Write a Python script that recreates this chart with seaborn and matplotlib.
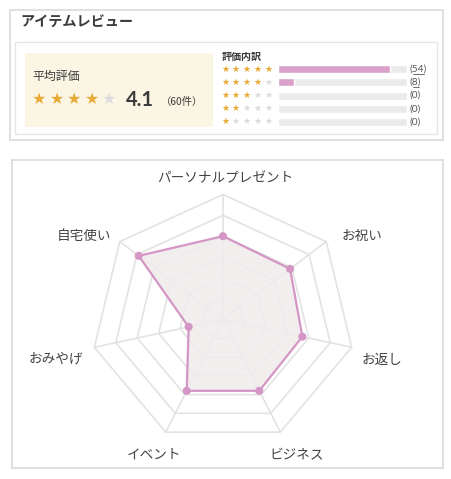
import numpy as np
import pandas as pd
import matplotlib
matplotlib.use("Agg")
import matplotlib.pyplot as plt
from matplotlib.patches import Rectangle
import seaborn as sns

sns.set_theme(style="white")
JP = ['Noto Sans CJK JP', 'DejaVu Sans']
plt.rcParams['font.family'] = JP

# ---------------- data ----------------
title = "アイテムレビュー"
avg_label = "平均評価"
avg_score = 4.1
review_count = 60
breakdown_title = "評価内訳"
star_levels = [5, 4, 3, 2, 1]
star_counts = [54, 8, 0, 0, 0]

radar_labels = ["パーソナルプレゼント", "お祝い", "お返し", "ビジネス", "イベント", "おみやげ", "自宅使い"]
radar_values = [4.0, 3.9, 3.7, 3.8, 3.8, 1.6, 4.9]
radar_max = 6

# ---------------- style ----------------
W, H = 452, 479
GOLD = "#e6aa35"
STAR_GRAY = "#dcdcdc"
PINK = "#d9a1ca"
LINE = "#d496c4"
FILL = "#f1ebec"
GRID = "#e3e3e3"
BORDER = "#dadada"
TXT = "#3a3a3a"

fig = plt.figure(figsize=(W / 100, H / 100), dpi=100)
fig.patch.set_facecolor("white")

# overlay axes in pixel coordinates for the review panel
ov = fig.add_axes([0, 0, 1, 1])
ov.set_xlim(0, W)
ov.set_ylim(H, 0)
ov.axis("off")

ov.add_patch(Rectangle((10, 10), 433, 130, fill=False, ec=BORDER, lw=1.2))
ov.add_patch(Rectangle((15, 42), 422, 92, fill=False, ec="#e6e6e6", lw=1.0))
ov.add_patch(Rectangle((25, 53), 188, 74, fc="#fbf6e4", ec="none"))

ov.text(20, 23, title, fontsize=10.2, fontweight="bold", color=TXT, va="center", ha="left")
ov.text(32, 76, avg_label, fontsize=8.6, color=TXT, va="center", ha="left")

for i in range(5):
    ov.text(39.5 + i * 17.5, 99, "★", family="DejaVu Sans", fontsize=11.5,
            color=GOLD if i < int(avg_score) else STAR_GRAY, ha="center", va="center")
ov.text(126, 100, f"{avg_score:.1f}", fontsize=14.5, fontweight="bold", color=TXT,
        ha="left", va="center", family=["Lato", "DejaVu Sans"])
ov.text(161, 101.5, f"（{review_count}件）", fontsize=7.4, color=TXT, ha="left", va="center")

ov.text(222, 56.5, breakdown_title, fontsize=7.2, fontweight="bold", color=TXT, ha="left", va="center")

row_y0, row_dy = 69.3, 13.1
for r, lvl in enumerate(star_levels):
    y = row_y0 + r * row_dy
    for i in range(5):
        ov.text(225 + i * 10.8, y, "★", family="DejaVu Sans", fontsize=6.5,
                color=GOLD if i < lvl else STAR_GRAY, ha="center", va="center")
    ov.text(410, y, f"({star_counts[r]})", fontsize=7.3, color="#555555", ha="left", va="center",
            family=["Lato", "DejaVu Sans"])
    if star_counts[r] > 0:
        nd = len(str(star_counts[r]))
        ov.plot([413.5, 413.5 + nd * 5.4], [y + 5, y + 5], color="#555555", lw=0.6)

# breakdown bars (seaborn)
total = sum(star_counts)
bx0, bx1 = 277.7, 406.7
by0 = row_y0 - row_dy / 2
axb = fig.add_axes([bx0 / W, 1 - (by0 + row_dy * 5) / H, (bx1 - bx0) / W, row_dy * 5 / H])
dfb = pd.DataFrame({"level": [str(s) for s in star_levels], "count": star_counts,
                    "total": [total] * len(star_levels)})
order = [str(s) for s in star_levels]
sns.barplot(data=dfb, x="total", y="level", order=order, orient="h", color="#ebebeb",
            saturation=1, width=8 / row_dy, ax=axb)
sns.barplot(data=dfb, x="count", y="level", order=order, orient="h", color=PINK,
            saturation=1, width=8 / row_dy, ax=axb)
axb.set_xlim(0, total)
axb.set_ylim(len(star_levels) - 0.5, -0.5)
axb.axis("off")

# ---------------- radar ----------------
cx, cy = 223, 319.5
sx, sy = 22.0, 20.83
bl, bt, br, bb = 11.5, 160, 443, 468
axr = fig.add_axes([bl / W, 1 - bb / H, (br - bl) / W, (bb - bt) / H])
axr.set_xlim((bl - cx) / sx, (br - cx) / sx)
axr.set_ylim((cy - bb) / sy, (cy - bt) / sy)
axr.set_xticks([])
axr.set_yticks([])
for s in axr.spines.values():
    s.set_color(BORDER)
    s.set_linewidth(1.2)
    s.set_visible(True)

n = len(radar_labels)
ang = np.arange(n) * 2 * np.pi / n
ux, uy = np.sin(ang), np.cos(ang)
ring_x = np.append(ux, ux[0])
ring_y = np.append(uy, uy[0])
for k in range(1, radar_max + 1):
    axr.plot(ring_x * k, ring_y * k, color=GRID, lw=1.2, zorder=1)
for i in range(n):
    axr.plot([0, ux[i] * radar_max], [0, uy[i] * radar_max], color=GRID, lw=1.2, zorder=1)

vals = np.array(radar_values)
px, py = ux * vals, uy * vals
axr.fill(px, py, color=FILL, alpha=0.85, zorder=2, lw=0)
dfr = pd.DataFrame({"x": np.append(px, px[0]), "y": np.append(py, py[0])})
sns.lineplot(data=dfr, x="x", y="y", sort=False, estimator=None, color=LINE, lw=1.6, ax=axr, zorder=3)
sns.scatterplot(x=px, y=py, color=LINE, s=34, edgecolor="none", ax=axr, zorder=4)
axr.set_xlabel("")
axr.set_ylabel("")

label_px = [(225, 178), (362, 236), (382, 360), (297, 455), (154, 455), (56, 359), (84, 236)]
for lab, (lx, ly) in zip(radar_labels, label_px):
    axr.text((lx - cx) / sx, (cy - ly) / sy, lab, fontsize=9.8, color="#444444",
             ha="center", va="center")

fig.savefig("out.png", dpi=100, facecolor="white")
